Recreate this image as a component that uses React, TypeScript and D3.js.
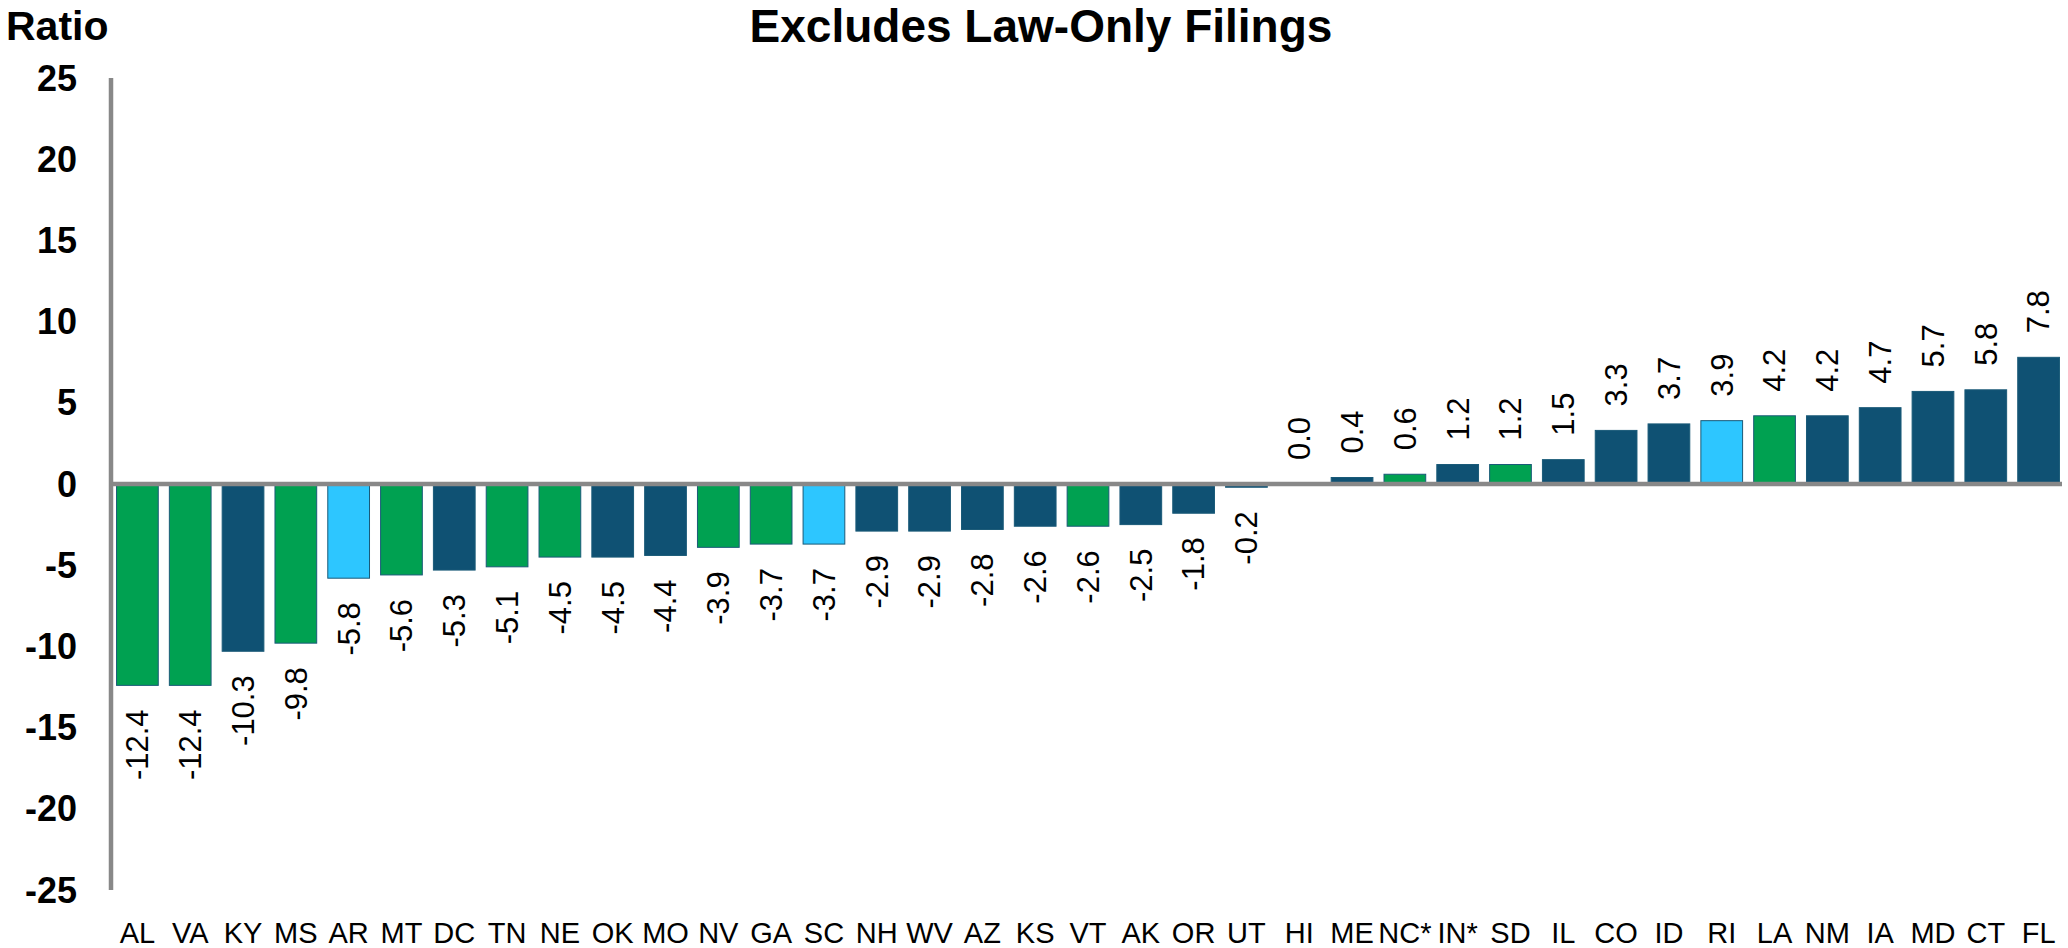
import React, { useEffect, useRef } from 'react';
import * as d3 from 'd3';

const states = ['AL', 'VA', 'KY', 'MS', 'AR', 'MT', 'DC', 'TN', 'NE', 'OK', 'MO', 'NV', 'GA', 'SC', 'NH', 'WV', 'AZ', 'KS', 'VT', 'AK', 'OR', 'UT', 'HI', 'ME', 'NC*', 'IN*', 'SD', 'IL', 'CO', 'ID', 'RI', 'LA', 'NM', 'IA', 'MD', 'CT', 'FL'];
const ratios = [-12.4, -12.4, -10.3, -9.8, -5.8, -5.6, -5.3, -5.1, -4.5, -4.5, -4.4, -3.9, -3.7, -3.7, -2.9, -2.9, -2.8, -2.6, -2.6, -2.5, -1.8, -0.2, 0.0, 0.4, 0.6, 1.2, 1.2, 1.5, 3.3, 3.7, 3.9, 4.2, 4.2, 4.7, 5.7, 5.8, 7.8];
// g = green, d = dark blue, l = light blue
const groups = ['g', 'g', 'd', 'g', 'l', 'g', 'd', 'g', 'g', 'd', 'd', 'g', 'g', 'l', 'd', 'd', 'd', 'd', 'g', 'd', 'd', 'd', 'd', 'd', 'g', 'd', 'g', 'd', 'd', 'd', 'l', 'g', 'd', 'd', 'd', 'd', 'd'];
const yTicks = [25, 20, 15, 10, 5, 0, -5, -10, -15, -20, -25];

const W = 2068;
const H = 948;

export default function App() {
  const ref = useRef<SVGSVGElement>(null);

  useEffect(() => {
    const svg = d3.select(ref.current);
    svg.selectAll('*').remove();

    const data = states.map((s, i) => ({ key: s, value: ratios[i], group: groups[i] }));

    const x = d3
      .scaleBand()
      .domain(states)
      .range([111, 2065])
      .paddingInner(0.21)
      .paddingOuter(0.105);

    const y = d3.scaleLinear().domain([-25, 25]).range([890, 78]);

    const color = d3
      .scaleOrdinal<string, string>()
      .domain(['d', 'g', 'l'])
      .range(['#0F5173', '#00A151', '#2DC6FF']);

    const font = '"Liberation Sans", Arial, sans-serif';

    // title + axis title
    svg
      .append('text')
      .attr('x', 1041)
      .attr('y', 42)
      .attr('text-anchor', 'middle')
      .style('font-family', font)
      .style('font-weight', 'bold')
      .style('font-size', '46px')
      .text('Excludes Law-Only Filings');

    svg
      .append('text')
      .attr('x', 6)
      .attr('y', 40)
      .style('font-family', font)
      .style('font-weight', 'bold')
      .style('font-size', '41px')
      .text('Ratio');

    // y tick labels
    svg
      .append('g')
      .selectAll('text')
      .data(yTicks)
      .enter()
      .append('text')
      .attr('x', 77)
      .attr('y', (d) => y(d))
      .attr('dy', '0.35em')
      .attr('text-anchor', 'end')
      .style('font-family', font)
      .style('font-weight', 'bold')
      .style('font-size', '36px')
      .text((d) => d);

    // bars
    svg
      .append('g')
      .selectAll('rect')
      .data(data)
      .enter()
      .append('rect')
      .attr('x', (d) => x(d.key)!)
      .attr('y', (d) => Math.min(y(d.value), y(0)))
      .attr('width', x.bandwidth())
      .attr('height', (d) => Math.abs(y(d.value) - y(0)))
      .attr('fill', (d) => color(d.group))
      .attr('stroke', (d) => (d.value === 0 ? 'none' : '#1A5A78'))
      .attr('stroke-width', 1);

    // value labels, rotated
    const gap = 24;
    svg
      .append('g')
      .selectAll('text')
      .data(data)
      .enter()
      .append('text')
      .attr('transform', (d) => {
        const cx = x(d.key)! + x.bandwidth() / 2;
        const ly = d.value < 0 ? y(d.value) + gap : y(d.value) - gap;
        return `translate(${cx},${ly}) rotate(-90)`;
      })
      .attr('dy', '0.35em')
      .attr('text-anchor', (d) => (d.value < 0 ? 'end' : 'start'))
      .style('font-family', font)
      .style('font-size', '31px')
      .text((d) => d.value.toFixed(1));

    // category labels
    svg
      .append('g')
      .selectAll('text')
      .data(states)
      .enter()
      .append('text')
      .attr('x', (d) => x(d)! + x.bandwidth() / 2)
      .attr('y', 943)
      .attr('text-anchor', 'middle')
      .style('font-family', font)
      .style('font-size', '29px')
      .text((d) => d);

    // axes lines
    svg
      .append('line')
      .attr('x1', 111)
      .attr('x2', 111)
      .attr('y1', y(25))
      .attr('y2', y(-25))
      .attr('stroke', '#888888')
      .attr('stroke-width', 4.5);

    svg
      .append('line')
      .attr('x1', 109)
      .attr('x2', 2062)
      .attr('y1', y(0))
      .attr('y2', y(0))
      .attr('stroke', '#888888')
      .attr('stroke-width', 4.5);
  }, []);

  return (
    <div>
      <svg
        ref={ref}
        width={W}
        height={H}
        style={{ position: 'absolute', left: 0, top: 0, background: '#fff' }}
      />
    </div>
  );
}
